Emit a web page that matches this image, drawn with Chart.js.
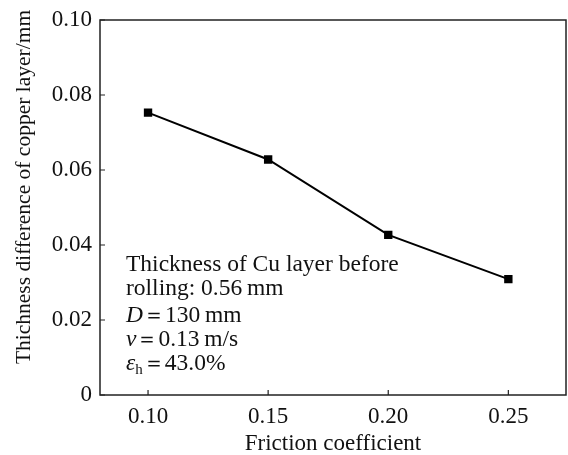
<!DOCTYPE html>
<html>
<head>
<meta charset="utf-8">
<script src="https://cdn.jsdelivr.net/npm/chart.js@4"></script>
<style>
  html, body { margin: 0; padding: 0; background: #fff; }
  #wrap { width: 568px; height: 455px; }
</style>
</head>
<body>
<div id="wrap"><canvas id="frictionChart"></canvas></div>
<script>
// data
const frictionCoef = [0.10, 0.15, 0.20, 0.25];
const thickDiff = [0.0753, 0.0628, 0.0427, 0.0309];
const xTicks = [0.10, 0.15, 0.20, 0.25];
const yTicks = [0, 0.02, 0.04, 0.06, 0.08, 0.10];

const FONT = '"Liberation Serif", "Times New Roman", serif';

// frame, inward tick marks, y title and the note text
const framePlugin = {
    id: 'frame',
    afterDraw(chart) {
        const ctx = chart.ctx;
        const a = chart.chartArea;
        const xs = chart.scales.x, ys = chart.scales.y;
        ctx.save();
        ctx.strokeStyle = '#222';
        ctx.lineWidth = 1.5;
        ctx.strokeRect(a.left, a.top, a.right - a.left, a.bottom - a.top);
        ctx.lineWidth = 1.2;
        ctx.beginPath();
        xTicks.forEach(v => {
            const px = xs.getPixelForValue(v);
            ctx.moveTo(px, a.bottom);
            ctx.lineTo(px, a.bottom - 5);
        });
        yTicks.forEach(v => {
            const py = ys.getPixelForValue(v);
            ctx.moveTo(a.left, py);
            ctx.lineTo(a.left + 5, py);
        });
        ctx.stroke();

        ctx.fillStyle = '#111';

        // y axis title
        ctx.save();
        ctx.translate(24, 187);
        ctx.rotate(-Math.PI / 2);
        ctx.font = '21.5px ' + FONT;
        ctx.textAlign = 'center';
        ctx.textBaseline = 'middle';
        ctx.fillText('Thichness difference of copper layer/mm', 0, 0);
        ctx.restore();

        // annotation block
        ctx.textBaseline = 'alphabetic';
        const x0 = 126;
        const reg = '23.5px ' + FONT, ital = 'italic 23.5px ' + FONT;
        ctx.font = reg;
        ctx.fillText('Thickness of Cu layer before', x0, 271);
        ctx.fillText('rolling: 0.56\u2009mm', x0, 295);

        const runs = (parts, y) => {
            let x = x0;
            parts.forEach(p => {
                ctx.font = p.f;
                ctx.fillText(p.t, x, y + (p.dy || 0));
                x += ctx.measureText(p.t).width;
            });
        };
        const eq = '22px ' + FONT;
        runs([{ t: 'D', f: ital }, { t: '\uFF1D', f: eq }, { t: '130\u2009mm', f: reg }], 322);
        runs([{ t: 'v', f: ital }, { t: '\uFF1D', f: eq }, { t: '0.13\u2009m/s', f: reg }], 346);
        runs([{ t: '\u03B5', f: ital }, { t: 'h', f: '15px ' + FONT, dy: 4 }, { t: '\uFF1D', f: eq }, { t: '43.0%', f: reg }], 370);
        ctx.restore();
    }
};

const ctx = document.getElementById('frictionChart').getContext('2d');
new Chart(ctx, {
    type: 'line',
    data: {
        datasets: [{
            data: frictionCoef.map((x, i) => ({ x: x, y: thickDiff[i] })),
            borderColor: '#000',
            backgroundColor: '#000',
            borderWidth: 2,
            pointStyle: 'rect',
            pointRadius: 4.5,
            pointHoverRadius: 4.5,
            tension: 0,
            fill: false
        }]
    },
    options: {
        responsive: true,
        maintainAspectRatio: false,
        animation: false,
        devicePixelRatio: 1,
        layout: { autoPadding: false, padding: { left: 0, right: 2, top: 20, bottom: 0 } },
        plugins: {
            legend: { display: false },
            tooltip: { enabled: false }
        },
        scales: {
            x: {
                type: 'linear',
                min: 0.08,
                max: 0.274,
                grid: { display: false, drawTicks: false },
                border: { display: false },
                afterBuildTicks: s => { s.ticks = xTicks.map(v => ({ value: v })); },
                afterFit: s => {
                    s.height = 60;
                    s.paddingLeft = 0;
                    s.paddingRight = 0;
                },
                ticks: {
                    padding: 8,
                    color: '#111',
                    font: { family: FONT, size: 23 },
                    maxRotation: 0,
                    callback: v => v.toFixed(2)
                },
                title: {
                    display: true,
                    text: 'Friction coefficient',
                    color: '#111',
                    font: { family: FONT, size: 23 },
                    padding: { top: 0, bottom: -3 }
                }
            },
            y: {
                min: 0,
                max: 0.10,
                grid: { display: false, drawTicks: false },
                border: { display: false },
                afterBuildTicks: s => { s.ticks = yTicks.map(v => ({ value: v })); },
                afterFit: s => {
                    s.width = 100;
                    s.paddingTop = 0;
                    s.paddingBottom = 0;
                },
                ticks: {
                    padding: 8,
                    color: '#111',
                    font: { family: FONT, size: 23 },
                    callback: v => v === 0 ? '0' : v.toFixed(2)
                },
                title: { display: false }
            }
        }
    },
    plugins: [framePlugin]
});
</script>
</body>
</html>
